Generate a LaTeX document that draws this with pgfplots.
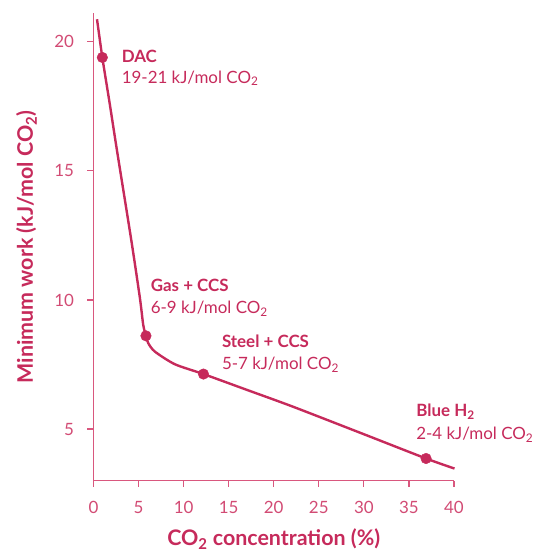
\documentclass[border=0pt]{standalone}
\usepackage{pgfplots}
\pgfplotsset{compat=1.18}
\usepackage{fontspec}
\setmainfont{Lato}
\definecolor{crim}{HTML}{C62A5B}
\definecolor{tickcol}{HTML}{D24B74}
\definecolor{axcol}{HTML}{D9577E}
\newcommand{\sub}[1]{\textsubscript{#1}}
\begin{document}
\begin{tikzpicture}
\begin{axis}[
  scale only axis,
  width=360.5bp, height=467.4bp,
  xmin=0, xmax=40, ymin=3, ymax=21.1,
  axis x line*=bottom, axis y line*=left,
  axis line style={axcol, line width=1.2bp},
  xtick={0,5,...,40}, ytick={5,10,15,20},
  tick align=outside, major tick length=6bp,
  tick style={axcol, line width=1.2bp},
  /pgf/number format/assume math mode=true,
  tick label style={font=\fontsize{17}{17}\selectfont, text=tickcol},
  xticklabel style={yshift=-11bp},
  yticklabel style={xshift=-10bp},
  xlabel={CO\sub{2} concentration (\%)},
  ylabel={Minimum work (kJ/mol CO\sub{2})},
  label style={font=\fontsize{21.5}{21.5}\selectfont\bfseries, text=crim},
  xlabel style={at={([yshift=-65bp]axis description cs:0.5,0)}, anchor=base},
  ylabel style={at={([xshift=-60.5bp]axis description cs:0,0.5)}, anchor=base},
  clip=false,
]
% curve
\addplot[crim, line width=2.4bp, smooth, tension=0.45] coordinates {
  (0.39,20.87) (0.98,19.39) (1.8,17.6) (2.6,15.8) (4.2,12.3) (5.15,10.07)
  (5.52,9.03) (5.82,8.61) (6.07,8.33) (6.81,8.0) (9.03,7.51) (12.2,7.13)
  (17,6.52) (22.1,5.87) (30,4.8) (36.9,3.86) (40.06,3.47)
};
% marked cases
\addplot[only marks, mark=*, mark size=5.3bp, crim, mark options={fill=crim, draw=crim}] coordinates {
  (0.98,19.39) (5.82,8.61) (12.2,7.13) (36.9,3.86)
};
\begin{scope}[every node/.style={anchor=base west, inner sep=0pt, text=crim, font=\fontsize{17}{17}\selectfont}]
\node[font=\fontsize{17}{17}\selectfont\bfseries] at (axis cs:3.12,19.2) {DAC};
\node at (axis cs:3.12,18.4) {19-21 kJ/mol CO\sub{2}};
\node[font=\fontsize{17}{17}\selectfont\bfseries] at (axis cs:6.34,10.32) {Gas + CCS};
\node at (axis cs:6.34,9.46) {6-9 kJ/mol CO\sub{2}};
\node[font=\fontsize{17}{17}\selectfont\bfseries] at (axis cs:14.24,8.16) {Steel + CCS};
\node at (axis cs:14.24,7.29) {5-7 kJ/mol CO\sub{2}};
\node[font=\fontsize{17}{17}\selectfont\bfseries] at (axis cs:35.8,5.47) {Blue H\sub{2}};
\node at (axis cs:35.8,4.59) {2-4 kJ/mol CO\sub{2}};
\end{scope}
\end{axis}
\pgfresetboundingbox
\path[use as bounding box] ([xshift=-93.5bp,yshift=-71.3bp]current axis.south west) rectangle ([xshift=84bp,yshift=13.3bp]current axis.north east);
\end{tikzpicture}
\end{document}
